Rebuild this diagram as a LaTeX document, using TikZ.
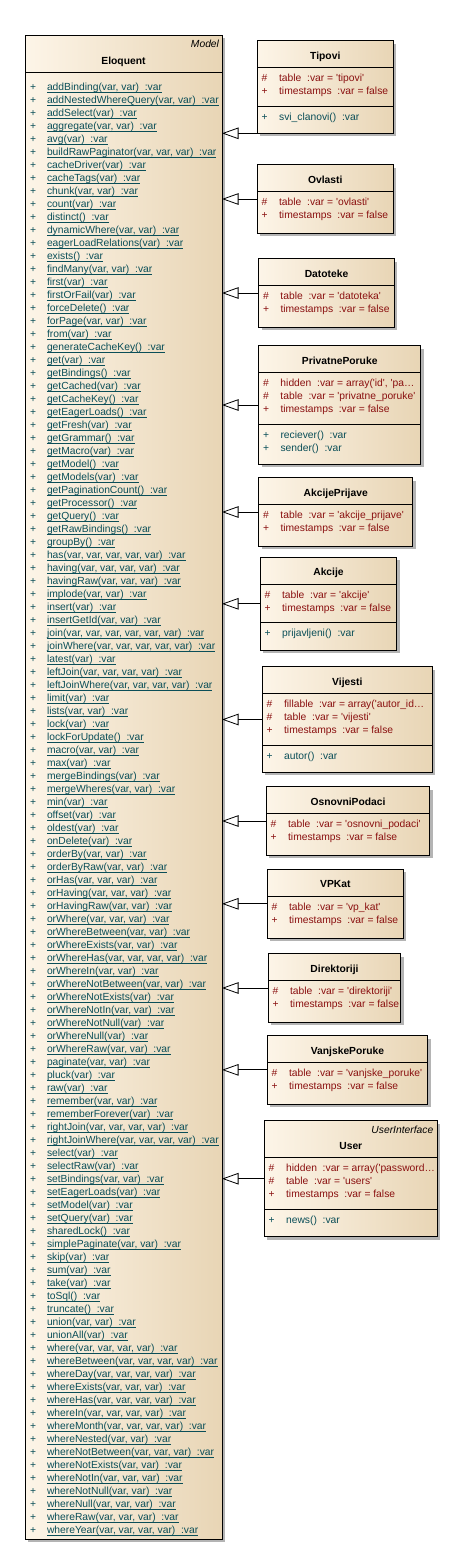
\documentclass[tikz,border=0pt]{standalone}
\usepackage{xcolor}
\usepackage{fontspec}
\newfontfamily\umlfont{Liberation Sans}
\usepackage{tikz}
\usetikzlibrary{arrows.meta, shadows}
\definecolor{umlleft}{HTML}{FDF5E8}
\definecolor{umlright}{HTML}{E8D5B5}
\definecolor{umlshadow}{HTML}{B4B4B4}
\definecolor{attrred}{HTML}{8A1010}
\definecolor{opteal}{HTML}{0A4E58}
\tikzstyle{classbox} = [rectangle, anchor=north west, draw=black, line width=0.8pt, inner sep=0pt, outer sep=0pt, left color=umlleft, right color=umlright, drop shadow={shadow xshift=3pt, shadow yshift=-3pt, fill=umlshadow, opacity=1}]
\tikzstyle{txt} = [inner sep=0pt, outer sep=0pt, font=\umlfont\fontsize{10.3}{13}\selectfont]
\tikzstyle{title} = [txt, anchor=base, font=\umlfont\bfseries\fontsize{10.3}{13}\selectfont]
\tikzstyle{stereo} = [txt, anchor=base east, font=\umlfont\itshape\fontsize{10.3}{13}\selectfont]
\tikzstyle{attr} = [txt, anchor=base west, text=attrred]
\tikzstyle{op} = [txt, anchor=base west, text=opteal]
\tikzstyle{method} = [txt, anchor=base west, text=opteal]
\tikzstyle{plus} = [txt, anchor=base west, text=opteal]
\tikzstyle{ulline} = [draw=opteal, line width=0.7pt]
\tikzstyle{sepline} = [draw=black, line width=0.8pt]
\tikzstyle{inherit} = [draw=black, line width=0.8pt, -{Triangle[open, length=16.5pt, width=11.5pt, fill=white]}]
\newcommand{\vis}[1]{\makebox[17.5pt][l]{#1}}
\newcommand{\dsp}{\ \ }

\begin{document}
\begin{tikzpicture}[x=1pt, y=-1pt]
	\useasboundingbox (0,0) rectangle (463,1566);
	
	% base class
	\node (eloquent) [classbox, minimum width=197pt, minimum height=1504pt] at (25,35) {};
	\draw [sepline] ([yshift=-37pt]eloquent.north west) -- ([yshift=-37pt]eloquent.north east);
	\node (eloquent-st) [stereo] at (219,47.6) {Model};
	\node (eloquent-t) [title] at (123.5,64.6) {Eloquent};
	\foreach \m [count=\i] in {{addBinding(var, var)}, {addNestedWhereQuery(var, var)}, {addSelect(var)}, {aggregate(var, var)}, {avg(var)}, {buildRawPaginator(var, var, var)}, {cacheDriver(var)}, {cacheTags(var)}, {chunk(var, var)}, {count(var)}, {distinct()}, {dynamicWhere(var, var)}, {eagerLoadRelations(var)}, {exists()}, {findMany(var, var)}, {first(var)}, {firstOrFail(var)}, {forceDelete()}, {forPage(var, var)}, {from(var)}, {generateCacheKey()}, {get(var)}, {getBindings()}, {getCached(var)}, {getCacheKey()}, {getEagerLoads()}, {getFresh(var)}, {getGrammar()}, {getMacro(var)}, {getModel()}, {getModels(var)}, {getPaginationCount()}, {getProcessor()}, {getQuery()}, {getRawBindings()}, {groupBy()}, {has(var, var, var, var, var)}, {having(var, var, var, var)}, {havingRaw(var, var, var)}, {implode(var, var)}, {insert(var)}, {insertGetId(var, var)}, {join(var, var, var, var, var, var)}, {joinWhere(var, var, var, var, var)}, {latest(var)}, {leftJoin(var, var, var, var)}, {leftJoinWhere(var, var, var, var)}, {limit(var)}, {lists(var, var)}, {lock(var)}, {lockForUpdate()}, {macro(var, var)}, {max(var)}, {mergeBindings(var)}, {mergeWheres(var, var)}, {min(var)}, {offset(var)}, {oldest(var)}, {onDelete(var)}, {orderBy(var, var)}, {orderByRaw(var, var)}, {orHas(var, var, var)}, {orHaving(var, var, var)}, {orHavingRaw(var, var)}, {orWhere(var, var, var)}, {orWhereBetween(var, var)}, {orWhereExists(var, var)}, {orWhereHas(var, var, var, var)}, {orWhereIn(var, var)}, {orWhereNotBetween(var, var)}, {orWhereNotExists(var)}, {orWhereNotIn(var, var)}, {orWhereNotNull(var)}, {orWhereNull(var)}, {orWhereRaw(var, var)}, {paginate(var, var)}, {pluck(var)}, {raw(var)}, {remember(var, var)}, {rememberForever(var)}, {rightJoin(var, var, var, var)}, {rightJoinWhere(var, var, var, var)}, {select(var)}, {selectRaw(var)}, {setBindings(var, var)}, {setEagerLoads(var)}, {setModel(var)}, {setQuery(var)}, {sharedLock()}, {simplePaginate(var, var)}, {skip(var)}, {sum(var)}, {take(var)}, {toSql()}, {truncate()}, {union(var, var)}, {unionAll(var)}, {where(var, var, var, var)}, {whereBetween(var, var, var, var)}, {whereDay(var, var, var, var)}, {whereExists(var, var, var)}, {whereHas(var, var, var, var)}, {whereIn(var, var, var, var)}, {whereMonth(var, var, var, var)}, {whereNested(var, var)}, {whereNotBetween(var, var, var)}, {whereNotExists(var, var)}, {whereNotIn(var, var, var)}, {whereNotNull(var, var)}, {whereNull(var, var, var)}, {whereRaw(var, var, var)}, {whereYear(var, var, var, var)}} {
		\node (ep\i) [plus] at (30, 77.3+13*\i) {+};
		\node (em\i) [method] at (47, 77.3+13*\i) {\m\dsp:var};
		\draw [ulline] ([yshift=-1.6pt]em\i.base west) -- ([yshift=-1.6pt]em\i.base east);
	}
	
	% Tipovi
	\node (tipovi) [classbox, minimum width=136pt, minimum height=92.6pt] at (257.3,40.7) {};
	\node (tipovi-t) [title] at (tipovi.center |- 0,59.1) {Tipovi};
	\draw [sepline] ([yshift=-26.8pt]tipovi.north west) -- ([yshift=-26.8pt]tipovi.north east);
	\node (tipovi-a1) [attr] at (261.6,81.5) {\vis{\#}table\dsp:var = 'tipovi'};
	\node (tipovi-a2) [attr] at (261.6,94.5) {\vis{+}timestamps\dsp:var = false};
	\draw [sepline] (tipovi.west |- 0,106.2) -- (tipovi.east |- 0,106.2);
	\node (tipovi-o1) [op] at (261.6,120.2) {\vis{+}svi\_clanovi()\dsp:var};
	
	% Ovlasti
	\node (ovlasti) [classbox, minimum width=136pt, minimum height=68.6pt] at (257.3,164.7) {};
	\node (ovlasti-t) [title] at (ovlasti.center |- 0,183.1) {Ovlasti};
	\draw [sepline] ([yshift=-26.8pt]ovlasti.north west) -- ([yshift=-26.8pt]ovlasti.north east);
	\node (ovlasti-a1) [attr] at (261.6,205.5) {\vis{\#}table\dsp:var = 'ovlasti'};
	\node (ovlasti-a2) [attr] at (261.6,218.5) {\vis{+}timestamps\dsp:var = false};
	
	% Datoteke
	\node (datoteke) [classbox, minimum width=135.6pt, minimum height=68.6pt] at (258.7,258.7) {};
	\node (datoteke-t) [title] at (datoteke.center |- 0,277.1) {Datoteke};
	\draw [sepline] ([yshift=-26.8pt]datoteke.north west) -- ([yshift=-26.8pt]datoteke.north east);
	\node (datoteke-a1) [attr] at (263,299.5) {\vis{\#}table\dsp:var = 'datoteka'};
	\node (datoteke-a2) [attr] at (263,312.5) {\vis{+}timestamps\dsp:var = false};
	
	% PrivatnePoruke
	\node (privatne) [classbox, minimum width=162pt, minimum height=118.6pt] at (258.7,345.7) {};
	\node (privatne-t) [title] at (privatne.center |- 0,364.1) {PrivatnePoruke};
	\draw [sepline] ([yshift=-26.8pt]privatne.north west) -- ([yshift=-26.8pt]privatne.north east);
	\node (privatne-a1) [attr] at (263,386.5) {\vis{\#}hidden\dsp:var = array('id', 'pa…};
	\node (privatne-a2) [attr] at (263,399.5) {\vis{\#}table\dsp:var = 'privatne\_poruke'};
	\node (privatne-a3) [attr] at (263,412.5) {\vis{+}timestamps\dsp:var = false};
	\draw [sepline] (privatne.west |- 0,424.2) -- (privatne.east |- 0,424.2);
	\node (privatne-o1) [op] at (263,438.2) {\vis{+}reciever()\dsp:var};
	\node (privatne-o2) [op] at (263,451.2) {\vis{+}sender()\dsp:var};
	
	% AkcijePrijave
	\node (prijave) [classbox, minimum width=154pt, minimum height=68.6pt] at (258.7,477.7) {};
	\node (prijave-t) [title] at (prijave.center |- 0,496.1) {AkcijePrijave};
	\draw [sepline] ([yshift=-26.8pt]prijave.north west) -- ([yshift=-26.8pt]prijave.north east);
	\node (prijave-a1) [attr] at (263,518.5) {\vis{\#}table\dsp:var = 'akcije\_prijave'};
	\node (prijave-a2) [attr] at (263,531.5) {\vis{+}timestamps\dsp:var = false};
	
	% Akcije
	\node (akcije) [classbox, minimum width=136.4pt, minimum height=93pt] at (260.3,557.3) {};
	\node (akcije-t) [title] at (akcije.center |- 0,575.7) {Akcije};
	\draw [sepline] ([yshift=-26.8pt]akcije.north west) -- ([yshift=-26.8pt]akcije.north east);
	\node (akcije-a1) [attr] at (264.6,598.1) {\vis{\#}table\dsp:var = 'akcije'};
	\node (akcije-a2) [attr] at (264.6,611.1) {\vis{+}timestamps\dsp:var = false};
	\draw [sepline] (akcije.west |- 0,622.8) -- (akcije.east |- 0,622.8);
	\node (akcije-o1) [op] at (264.6,636.8) {\vis{+}prijavljeni()\dsp:var};
	
	% Vijesti
	\node (vijesti) [classbox, minimum width=170pt, minimum height=105.6pt] at (262.3,666.7) {};
	\node (vijesti-t) [title] at (vijesti.center |- 0,685.1) {Vijesti};
	\draw [sepline] ([yshift=-26.8pt]vijesti.north west) -- ([yshift=-26.8pt]vijesti.north east);
	\node (vijesti-a1) [attr] at (266.6,707.5) {\vis{\#}fillable\dsp:var = array('autor\_id…};
	\node (vijesti-a2) [attr] at (266.6,720.5) {\vis{\#}table\dsp:var = 'vijesti'};
	\node (vijesti-a3) [attr] at (266.6,733.5) {\vis{+}timestamps\dsp:var = false};
	\draw [sepline] (vijesti.west |- 0,745.2) -- (vijesti.east |- 0,745.2);
	\node (vijesti-o1) [op] at (266.6,759.2) {\vis{+}autor()\dsp:var};
	
	% OsnovniPodaci
	\node (osnovni) [classbox, minimum width=163.4pt, minimum height=68.6pt] at (266.3,786.7) {};
	\node (osnovni-t) [title] at (osnovni.center |- 0,805.1) {OsnovniPodaci};
	\draw [sepline] ([yshift=-26.8pt]osnovni.north west) -- ([yshift=-26.8pt]osnovni.north east);
	\node (osnovni-a1) [attr] at (270.6,827.5) {\vis{\#}table\dsp:var = 'osnovni\_podaci'};
	\node (osnovni-a2) [attr] at (270.6,840.5) {\vis{+}timestamps\dsp:var = false};
	
	% VPKat
	\node (vpkat) [classbox, minimum width=136pt, minimum height=69pt] at (267.3,869.3) {};
	\node (vpkat-t) [title] at (vpkat.center |- 0,887.7) {VPKat};
	\draw [sepline] ([yshift=-26.8pt]vpkat.north west) -- ([yshift=-26.8pt]vpkat.north east);
	\node (vpkat-a1) [attr] at (271.6,910.1) {\vis{\#}table\dsp:var = 'vp\_kat'};
	\node (vpkat-a2) [attr] at (271.6,923.1) {\vis{+}timestamps\dsp:var = false};
	
	% Direktoriji
	\node (direktoriji) [classbox, minimum width=132.4pt, minimum height=68.6pt] at (268.3,953.7) {};
	\node (direktoriji-t) [title] at (direktoriji.center |- 0,972.1) {Direktoriji};
	\draw [sepline] ([yshift=-26.8pt]direktoriji.north west) -- ([yshift=-26.8pt]direktoriji.north east);
	\node (direktoriji-a1) [attr] at (272.6,994.5) {\vis{\#}table\dsp:var = 'direktoriji'};
	\node (direktoriji-a2) [attr] at (272.6,1007.5) {\vis{+}timestamps\dsp:var = false};
	
	% VanjskePoruke
	\node (vanjske) [classbox, minimum width=160.4pt, minimum height=68.3pt] at (267.3,1035.7) {};
	\node (vanjske-t) [title] at (vanjske.center |- 0,1054.1) {VanjskePoruke};
	\draw [sepline] ([yshift=-26.8pt]vanjske.north west) -- ([yshift=-26.8pt]vanjske.north east);
	\node (vanjske-a1) [attr] at (271.6,1076.5) {\vis{\#}table\dsp:var = 'vanjske\_poruke'};
	\node (vanjske-a2) [attr] at (271.6,1089.5) {\vis{+}timestamps\dsp:var = false};
	
	% User
	\node (user) [classbox, minimum width=173pt, minimum height=116pt] at (264.3,1120.7) {};
	\node (user-st) [stereo] at (433.3,1133) {UserInterface};
	\node (user-t) [title] at (user.center |- 0,1149.3) {User};
	\draw [sepline] ([yshift=-36.8pt]user.north west) -- ([yshift=-36.8pt]user.north east);
	\node (user-a1) [attr] at (268.6,1171.5) {\vis{\#}hidden\dsp:var = array('password…};
	\node (user-a2) [attr] at (268.6,1184.5) {\vis{\#}table\dsp:var = 'users'};
	\node (user-a3) [attr] at (268.6,1197.5) {\vis{+}timestamps\dsp:var = false};
	\draw [sepline] (user.west |- 0,1209.2) -- (user.east |- 0,1209.2);
	\node (user-o1) [op] at (268.6,1223.2) {\vis{+}news()\dsp:var};
	
	% generalizations
	\draw [inherit] (tipovi.south west) -- (eloquent.east |- tipovi.south west);
	\draw [inherit] (ovlasti.west) -- (eloquent.east |- ovlasti.west);
	\draw [inherit] (datoteke.west) -- (eloquent.east |- datoteke.west);
	\draw [inherit] (privatne.west) -- (eloquent.east |- privatne.west);
	\draw [inherit] (prijave.west) -- (eloquent.east |- prijave.west);
	\draw [inherit] (akcije.west) -- (eloquent.east |- akcije.west);
	\draw [inherit] (vijesti.west) -- (eloquent.east |- vijesti.west);
	\draw [inherit] (osnovni.west) -- (eloquent.east |- osnovni.west);
	\draw [inherit] (vpkat.west) -- (eloquent.east |- vpkat.west);
	\draw [inherit] (direktoriji.west) -- (eloquent.east |- direktoriji.west);
	\draw [inherit] (vanjske.west) -- (eloquent.east |- vanjske.west);
	\draw [inherit] (user.west) -- (eloquent.east |- user.west);
	
\end{tikzpicture}
\end{document}
